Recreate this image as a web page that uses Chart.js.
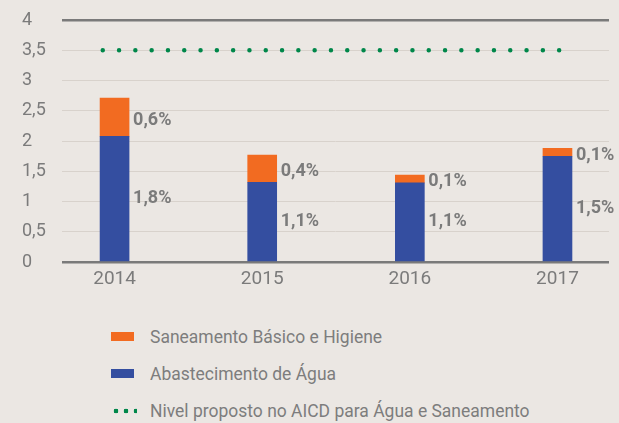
<!DOCTYPE html>
<html lang="pt">
<head>
    <meta charset="UTF-8">
    <title>Abastecimento de Água e Saneamento</title>
    <style>
        body {
            margin: 0;
            background: #ebe7e3;
            font-family: "Liberation Sans Narrow", Roboto, sans-serif;
        }
        #wrap {
            position: relative;
            width: 619px;
            height: 423px;
        }
        #chart-box {
            position: absolute;
            left: 0;
            top: 0;
            width: 619px;
            height: 297px;
        }
        #legend {
            position: absolute;
            left: 111px;
            top: 318px;
            list-style: none;
            margin: 0;
            padding: 0;
        }
        #legend li {
            height: 37px;
            display: flex;
            align-items: center;
            color: #7d7d7d;
            font-size: 19px;
            white-space: nowrap;
        }
        #legend li span.txt {
            display: inline-block;
            transform: scaleX(0.92);
            transform-origin: left center;
        }
        .swatch {
            width: 23px;
            height: 9px;
            margin-right: 16px;
        }
        .dots {
            width: 26px;
            height: 6px;
            margin-right: 13px;
            background-image: radial-gradient(circle, #00874a 2.1px, transparent 2.6px);
            background-size: 10px 6px;
        }
    </style>
</head>
<body>
    <div id="wrap">
        <div id="chart-box"><canvas id="aguaChart"></canvas></div>
        <ul id="legend"></ul>
    </div>

    <script src="https://cdn.jsdelivr.net/npm/chart.js"></script>
    <script>
        const years = [2014, 2015, 2016, 2017];
        const abastecimento = [2.08, 1.32, 1.31, 1.75];
        const saneamento = [0.63, 0.45, 0.13, 0.13];
        const abastecimentoLabels = ['1,8%', '1,1%', '1,1%', '1,5%'];
        const saneamentoLabels = ['0,6%', '0,4%', '0,1%', '0,1%'];
        const nivelProposto = 3.5;
        const nivelRange = [2013.92, 2017.08];
        const yTicks = [0, 0.5, 1, 1.5, 2, 2.5, 3, 3.5, 4];

        const grey = '#7b7b7b';
        const fontFamily = '"Liberation Sans Narrow", Roboto, sans-serif';

        // rotulos de percentagem ao lado de cada segmento
        const valueLabels = {
            id: 'valueLabels',
            afterDatasetsDraw(chart) {
                const ctx = chart.ctx;
                ctx.save();
                ctx.font = 'bold 18px ' + fontFamily;
                ctx.fillStyle = grey;
                ctx.textBaseline = 'middle';
                [[0, abastecimentoLabels, 0], [1, saneamentoLabels, 3]].forEach(([di, texts, dy]) => {
                    chart.getDatasetMeta(di).data.forEach((bar, i) => {
                        const p = bar.getProps(['x', 'y', 'base', 'width'], true);
                        ctx.fillText(texts[i], p.x + p.width / 2 + 4, (p.y + p.base) / 2 + dy);
                    });
                });
                ctx.restore();
            }
        };

        const chart = new Chart(document.getElementById('aguaChart'), {
            type: 'bar',
            data: {
                datasets: [{
                    label: 'Abastecimento de Água',
                    data: years.map((y, i) => ({ x: y, y: abastecimento[i] })),
                    backgroundColor: '#344ea0',
                    barThickness: 29,
                    stack: 'bars'
                }, {
                    label: 'Saneamento Básico e Higiene',
                    data: years.map((y, i) => ({ x: y, y: saneamento[i] })),
                    backgroundColor: '#f26b21',
                    barThickness: 29,
                    stack: 'bars'
                }, {
                    type: 'line',
                    label: 'Nivel proposto no AICD para Água e Saneamento',
                    data: nivelRange.map(x => ({ x: x, y: nivelProposto })),
                    borderColor: '#00874a',
                    borderWidth: 4.5,
                    borderDash: [0, 16.3],
                    borderCapStyle: 'round',
                    pointRadius: 0,
                    stack: 'nivel'
                }]
            },
            options: {
                responsive: true,
                maintainAspectRatio: false,
                animation: false,
                layout: { padding: { left: 22, right: 10, top: 20, bottom: 0 } },
                plugins: {
                    legend: { display: false },
                    tooltip: { enabled: false }
                },
                scales: {
                    x: {
                        type: 'linear',
                        offset: false,
                        min: 2013.644,
                        max: 2017.349,
                        stacked: true,
                        afterBuildTicks: scale => { scale.ticks = years.map(v => ({ value: v })); },
                        grid: { display: false, drawTicks: false },
                        border: { display: false },
                        ticks: {
                            color: grey,
                            font: { family: fontFamily, size: 19 },
                            padding: 6,
                            maxRotation: 0,
                            callback: v => String(v)
                        }
                    },
                    y: {
                        min: 0,
                        max: 4,
                        stacked: true,
                        afterBuildTicks: scale => { scale.ticks = yTicks.map(v => ({ value: v })); },
                        afterFit: scale => { scale.width = 40; },
                        border: { display: false },
                        grid: {
                            drawTicks: false,
                            color: c => (c.tick.value === 0 || c.tick.value === 4) ? '#7a7a7a' : '#d8d2cc',
                            lineWidth: c => (c.tick.value === 0 || c.tick.value === 4) ? 2.5 : 1
                        },
                        ticks: {
                            color: grey,
                            crossAlign: 'far',
                            font: { family: fontFamily, size: 18 },
                            callback: v => String(v).replace('.', ',')
                        }
                    }
                }
            },
            plugins: [valueLabels]
        });

        // legenda em coluna, como no original
        const legend = document.getElementById('legend');
        [1, 0, 2].forEach(di => {
            const ds = chart.data.datasets[di];
            const li = document.createElement('li');
            const mark = document.createElement('span');
            if (ds.type === 'line') {
                mark.className = 'dots';
            } else {
                mark.className = 'swatch';
                mark.style.background = ds.backgroundColor;
            }
            const txt = document.createElement('span');
            txt.className = 'txt';
            txt.textContent = ds.label;
            li.appendChild(mark);
            li.appendChild(txt);
            legend.appendChild(li);
        });
    </script>
</body>
</html>
